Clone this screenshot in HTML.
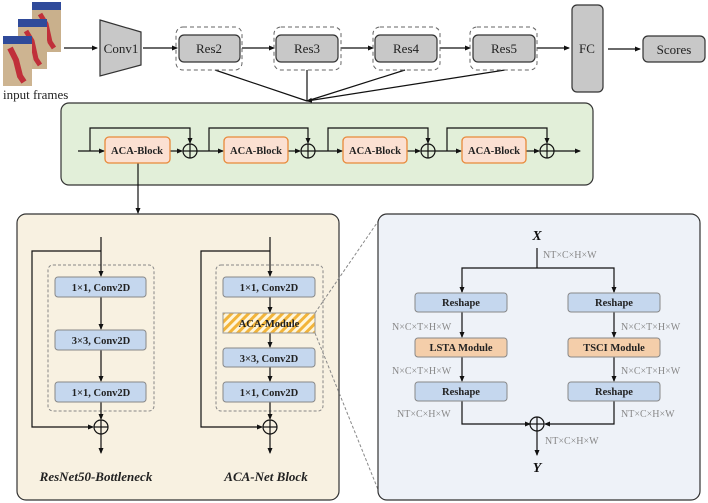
<!DOCTYPE html>
<html><head><meta charset="utf-8"><style>
html,body{margin:0;padding:0;background:#fff;}
svg{display:block;}
.ser{font-family:"Liberation Serif",serif;}
.lab{font-family:"Liberation Serif",serif;font-size:10px;fill:#888;}
</style></head><body>
<svg width="708" height="503" viewBox="0 0 708 503" xmlns="http://www.w3.org/2000/svg">
<defs>
<marker id="a" markerWidth="6" markerHeight="6" refX="5" refY="3" orient="auto" markerUnits="userSpaceOnUse"><path d="M0,0.5 L6,3 L0,5.5 z" fill="#111"/></marker>
<pattern id="h" width="6" height="6" patternUnits="userSpaceOnUse" patternTransform="rotate(45)"><rect width="6" height="6" fill="#fff6dc"/><rect width="3" height="6" fill="#f2b43a"/></pattern>
</defs>
<!-- frames -->
<g>
<rect x="32" y="2" width="29" height="50" fill="#c9b08c"/><rect x="32" y="2" width="29" height="8" fill="#2f4a9a"/><path d="M40 14 l6 10 l4 18 l4 6" stroke="#c0303a" stroke-width="5" fill="none"/>
<rect x="18" y="19" width="29" height="50" fill="#c9b08c"/><rect x="18" y="19" width="29" height="8" fill="#2f4a9a"/><path d="M26 31 l6 10 l4 18 l4 6" stroke="#c0303a" stroke-width="5" fill="none"/>
<rect x="3" y="36" width="29" height="50" fill="#cdb491"/><rect x="3" y="36" width="29" height="8" fill="#2f4a9a"/><path d="M10 48 l6 12 l4 16 l4 6" stroke="#c0303a" stroke-width="6" fill="none"/>
<text x="3" y="99" class="ser" font-size="13" fill="#222">input frames</text>
</g>
<g stroke="#111" stroke-width="1.2" fill="none">
<line x1="64" y1="48" x2="97" y2="48" marker-end="url(#a)"/>
<line x1="143" y1="48" x2="177" y2="48" marker-end="url(#a)"/>
<line x1="242" y1="48" x2="274" y2="48" marker-end="url(#a)"/>
<line x1="341" y1="48" x2="373" y2="48" marker-end="url(#a)"/>
<line x1="440" y1="48" x2="470" y2="48" marker-end="url(#a)"/>
<line x1="537" y1="48" x2="569" y2="48" marker-end="url(#a)"/>
<line x1="608" y1="49" x2="640" y2="49" marker-end="url(#a)"/>
<line x1="215" y1="70" x2="307" y2="101"/>
<line x1="307" y1="70" x2="307" y2="101"/>
<line x1="405" y1="70" x2="307" y2="101"/>
<line x1="505" y1="70" x2="307" y2="101" marker-end="url(#a)"/>
</g>
<polygon points="100,20 141,32 141,65 100,76" fill="#c8c8c8" stroke="#333" stroke-width="1.2"/>
<text x="121" y="53" class="ser" font-size="13" text-anchor="middle" fill="#222">Conv1</text>
<g stroke="#666" stroke-width="1" stroke-dasharray="4,3" fill="none">
<rect x="176" y="27" width="66" height="43" rx="7"/>
<rect x="274" y="27" width="67" height="43" rx="7"/>
<rect x="373" y="27" width="67" height="43" rx="7"/>
<rect x="470" y="27" width="67" height="43" rx="7"/>
</g>
<g fill="#c8c8c8" stroke="#333" stroke-width="1.2">
<rect x="179" y="35" width="61" height="27" rx="5"/>
<rect x="276" y="35" width="62" height="27" rx="5"/>
<rect x="375" y="35" width="62" height="27" rx="5"/>
<rect x="473" y="35" width="62" height="27" rx="5"/>
<rect x="572" y="5" width="31" height="87" rx="5"/>
<rect x="643" y="36" width="62" height="26" rx="5"/>
</g>
<g class="ser" font-size="13" text-anchor="middle" fill="#222">
<text x="209" y="53">Res2</text><text x="307" y="53">Res3</text><text x="406" y="53">Res4</text><text x="504" y="53">Res5</text>
<text x="587" y="53">FC</text><text x="674" y="54">Scores</text>
</g>
<!-- green panel -->
<rect x="61" y="103" width="532" height="82" rx="8" fill="#e2efd9" stroke="#333" stroke-width="1.2"/>
<g stroke="#111" stroke-width="1.2" fill="none">
<line x1="78" y1="151" x2="104" y2="151" marker-end="url(#a)"/>
<polyline points="90,151 90,128 190,128 190,143" marker-end="url(#a)"/>
<line x1="170" y1="151" x2="182" y2="151" marker-end="url(#a)"/>
<line x1="197" y1="151" x2="223" y2="151" marker-end="url(#a)"/>
<polyline points="209,151 209,128 308,128 308,143" marker-end="url(#a)"/>
<line x1="288" y1="151" x2="300" y2="151" marker-end="url(#a)"/>
<line x1="315" y1="151" x2="342" y2="151" marker-end="url(#a)"/>
<polyline points="328,151 328,128 428,128 428,143" marker-end="url(#a)"/>
<line x1="407" y1="151" x2="420" y2="151" marker-end="url(#a)"/>
<line x1="435" y1="151" x2="461" y2="151" marker-end="url(#a)"/>
<polyline points="447,151 447,128 547,128 547,143" marker-end="url(#a)"/>
<line x1="526" y1="151" x2="539" y2="151" marker-end="url(#a)"/>
<line x1="554" y1="151" x2="580" y2="151" marker-end="url(#a)"/>
<line x1="138" y1="163" x2="138" y2="213" marker-end="url(#a)"/>
</g>
<g fill="none" stroke="#111" stroke-width="1.2">
<circle cx="190" cy="151" r="7"/><line x1="183" y1="151" x2="197" y2="151"/><line x1="190" y1="144" x2="190" y2="158"/>
<circle cx="308" cy="151" r="7"/><line x1="301" y1="151" x2="315" y2="151"/><line x1="308" y1="144" x2="308" y2="158"/>
<circle cx="428" cy="151" r="7"/><line x1="421" y1="151" x2="435" y2="151"/><line x1="428" y1="144" x2="428" y2="158"/>
<circle cx="547" cy="151" r="7"/><line x1="540" y1="151" x2="554" y2="151"/><line x1="547" y1="144" x2="547" y2="158"/>
</g>
<g fill="#fbe0d2" stroke="#e8893a" stroke-width="1.3">
<rect x="105" y="137" width="65" height="26" rx="4"/>
<rect x="224" y="137" width="64" height="26" rx="4"/>
<rect x="343" y="137" width="64" height="26" rx="4"/>
<rect x="462" y="137" width="64" height="26" rx="4"/>
</g>
<g class="ser" font-size="10.5" font-weight="bold" text-anchor="middle" fill="#222">
<text x="137" y="154">ACA-Block</text><text x="256" y="154">ACA-Block</text><text x="375" y="154">ACA-Block</text><text x="494" y="154">ACA-Block</text>
</g>
<!-- beige -->
<rect x="17" y="214" width="322" height="286" rx="9" fill="#f8f1e1" stroke="#333" stroke-width="1.2"/>
<g stroke="#888" stroke-width="1" stroke-dasharray="3,2" fill="none">
<rect x="48" y="265" width="106" height="146" rx="5"/>
<rect x="216" y="265" width="107" height="146" rx="5"/>
<line x1="315" y1="313" x2="379" y2="220"/>
<line x1="315" y1="333" x2="379" y2="492"/>
</g>
<g stroke="#111" stroke-width="1.2" fill="none">
<line x1="101" y1="237" x2="101" y2="276" marker-end="url(#a)"/>
<polyline points="101,251 32,251 32,427 93,427" marker-end="url(#a)"/>
<line x1="101" y1="297" x2="101" y2="329" marker-end="url(#a)"/>
<line x1="101" y1="350" x2="101" y2="381" marker-end="url(#a)"/>
<line x1="101" y1="402" x2="101" y2="419" marker-end="url(#a)"/>
<line x1="101" y1="434" x2="101" y2="453" marker-end="url(#a)"/>
<circle cx="101" cy="427" r="7"/><line x1="94" y1="427" x2="108" y2="427"/><line x1="101" y1="420" x2="101" y2="434"/>
<line x1="270" y1="237" x2="270" y2="276" marker-end="url(#a)"/>
<polyline points="270,251 201,251 201,427 262,427" marker-end="url(#a)"/>
<line x1="270" y1="297" x2="270" y2="312" marker-end="url(#a)"/>
<line x1="270" y1="333" x2="270" y2="347" marker-end="url(#a)"/>
<line x1="270" y1="367" x2="270" y2="381" marker-end="url(#a)"/>
<line x1="270" y1="402" x2="270" y2="419" marker-end="url(#a)"/>
<line x1="270" y1="434" x2="270" y2="453" marker-end="url(#a)"/>
<circle cx="270" cy="427" r="7"/><line x1="263" y1="427" x2="277" y2="427"/><line x1="270" y1="420" x2="270" y2="434"/>
</g>
<g fill="#c5d7ee" stroke="#888" stroke-width="1">
<rect x="55" y="277" width="91" height="20" rx="3"/>
<rect x="55" y="330" width="91" height="20" rx="3"/>
<rect x="55" y="382" width="91" height="20" rx="3"/>
<rect x="223" y="277" width="92" height="20" rx="3"/>
<rect x="223" y="348" width="92" height="19" rx="3"/>
<rect x="223" y="382" width="92" height="20" rx="3"/>
</g>
<rect x="223" y="313" width="92" height="20" fill="url(#h)" stroke="#999" stroke-width="1"/>
<g class="ser" font-size="10.5" font-weight="bold" text-anchor="middle" fill="#222">
<text x="101" y="291">1×1, Conv2D</text><text x="101" y="344">3×3, Conv2D</text><text x="101" y="396">1×1, Conv2D</text>
<text x="269" y="291">1×1, Conv2D</text><text x="269" y="327">ACA-Module</text><text x="269" y="362">3×3, Conv2D</text><text x="269" y="396">1×1, Conv2D</text>
</g>
<g class="ser" font-size="13" font-weight="bold" font-style="italic" text-anchor="middle" fill="#222">
<text x="96" y="481">ResNet50-Bottleneck</text><text x="266" y="481">ACA-Net Block</text>
</g>
<!-- blue -->
<rect x="378" y="214" width="322" height="286" rx="9" fill="#eef2f8" stroke="#333" stroke-width="1.2"/>
<g stroke="#111" stroke-width="1.2" fill="none">
<line x1="537" y1="248" x2="537" y2="268"/>
<polyline points="462,292 462,268 614,268 614,292"/>
<line x1="462" y1="285" x2="462" y2="292" marker-end="url(#a)"/>
<line x1="614" y1="285" x2="614" y2="292" marker-end="url(#a)"/>
<line x1="462" y1="312" x2="462" y2="337" marker-end="url(#a)"/>
<line x1="614" y1="312" x2="614" y2="337" marker-end="url(#a)"/>
<line x1="462" y1="357" x2="462" y2="381" marker-end="url(#a)"/>
<line x1="614" y1="357" x2="614" y2="381" marker-end="url(#a)"/>
<polyline points="462,401 462,424 530,424" marker-end="url(#a)"/>
<polyline points="614,401 614,424 545,424" marker-end="url(#a)"/>
<line x1="537" y1="431" x2="537" y2="455" marker-end="url(#a)"/>
<circle cx="537" cy="424" r="7"/><line x1="530" y1="424" x2="544" y2="424"/><line x1="537" y1="417" x2="537" y2="431"/>
</g>
<g stroke="#888" stroke-width="1">
<rect x="415" y="293" width="92" height="19" rx="3" fill="#c5d7ee"/>
<rect x="568" y="293" width="92" height="19" rx="3" fill="#c5d7ee"/>
<rect x="415" y="338" width="92" height="19" rx="3" fill="#f4ceaa"/>
<rect x="568" y="338" width="92" height="19" rx="3" fill="#f4ceaa"/>
<rect x="415" y="382" width="92" height="19" rx="3" fill="#c5d7ee"/>
<rect x="568" y="382" width="92" height="19" rx="3" fill="#c5d7ee"/>
</g>
<g class="ser" font-size="10.5" font-weight="bold" text-anchor="middle" fill="#222">
<text x="461" y="306">Reshape</text><text x="614" y="306">Reshape</text>
<text x="461" y="351">LSTA Module</text><text x="614" y="351">TSCI Module</text>
<text x="461" y="395">Reshape</text><text x="614" y="395">Reshape</text>
</g>
<g class="ser" font-size="14" font-weight="bold" font-style="italic" text-anchor="middle" fill="#111">
<text x="537" y="240">X</text><text x="537" y="472">Y</text>
</g>
<g class="lab">
<text x="543" y="258">NT×C×H×W</text>
<text x="392" y="330">N×C×T×H×W</text><text x="621" y="330">N×C×T×H×W</text>
<text x="392" y="374">N×C×T×H×W</text><text x="621" y="374">N×C×T×H×W</text>
<text x="397" y="417">NT×C×H×W</text><text x="621" y="417">NT×C×H×W</text>
<text x="545" y="444">NT×C×H×W</text>
</g>
</svg>
</body></html>
